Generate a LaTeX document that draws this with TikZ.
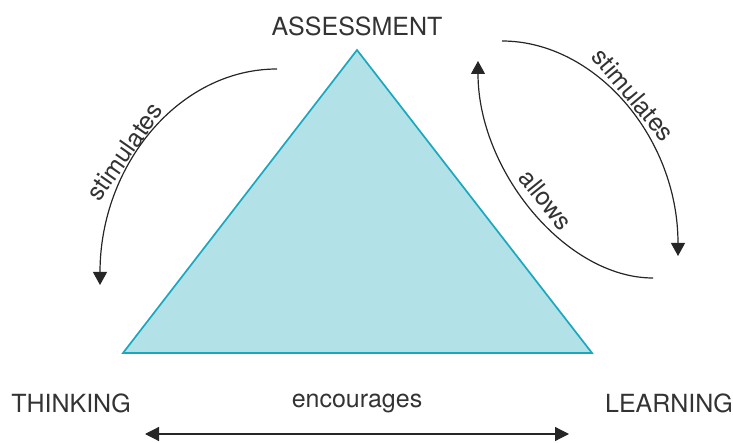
\documentclass[tikz,border=0pt]{standalone}
\usepackage{fontspec}
\setmainfont{TeX Gyre Heros}
\usepackage{tikz}
\usetikzlibrary{arrows.meta, positioning}
\definecolor{tealline}{HTML}{1AA8BF}
\definecolor{tealfill}{HTML}{B2E1E8}
\definecolor{inkgray}{HTML}{333333}
\tikzset{
  corner/.style={font=\fontsize{25}{30}\selectfont, text=inkgray, inner sep=0pt},
  lbl/.style={font=\fontsize{25}{30}\selectfont, text=inkgray, inner sep=2pt},
  arc/.style={-{Triangle[length=13pt, width=14pt]}, draw=black!85, line width=1.2pt},
  both/.style={{Triangle[length=14pt, width=14pt]}-{Triangle[length=14pt, width=14pt]}, draw=black!85, line width=1.2pt},
}

\begin{document}
\begin{tikzpicture}[x=1pt, y=-1pt]
\useasboundingbox (0,0) rectangle (733,443);

\coordinate (TA) at (357,50);
\coordinate (TL) at (123,353);
\coordinate (TR) at (592,353);
\filldraw[fill=tealfill, draw=tealline, line width=1.7pt, line join=miter] (TA) -- (TL) -- (TR) -- cycle;

\node[corner] (AS) at (357,26) {ASSESSMENT};
\node[corner] (TH) at (71,403) {THINKING};
\node[corner] (LE) at (669,403) {LEARNING};
\node[lbl] (EN) at (357,403) {encourages};

% left arc: assessment -> thinking
\coordinate (L1) at (277,69);
\coordinate (L2) at (100,285);
\draw[arc] (L1) .. controls (179,69) and (100,165) .. (L2);
\node[lbl, rotate=55, anchor=south] (LS) at (134,158) {stimulates};

% right arcs: assessment <-> learning
\coordinate (R1) at (502,41);
\coordinate (R2) at (678,256);
\draw[arc] (R1) .. controls (595,41) and (678,137) .. (R2);
\node[lbl, rotate=-50, anchor=south] (RS) at (625,102) {stimulates};

\coordinate (R3) at (653,278);
\coordinate (R4) at (478,61);
\draw[arc] (R3) .. controls (566,278) and (478,171) .. (R4);
\node[lbl, rotate=-51, anchor=south] (RA) at (537,207) {allows};

% bottom arrow
\coordinate (B1) at (145,434);
\coordinate (B2) at (569,434);
\draw[both] (B1) -- (B2);

\end{tikzpicture}
\end{document}
